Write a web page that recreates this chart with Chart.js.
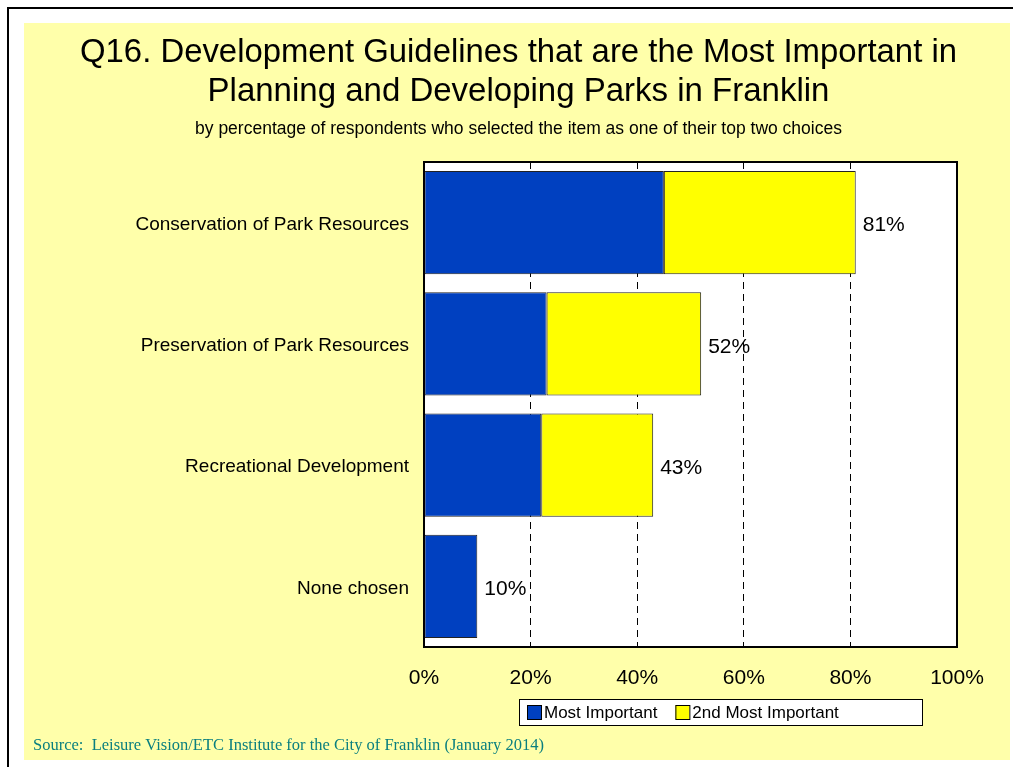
<!DOCTYPE html>
<html>
<head>
<meta charset="utf-8">
<script src="https://cdn.jsdelivr.net/npm/chart.js@4/dist/chart.umd.min.js"></script>
<style>
    body { margin: 0; background: #ffffff; }
    #frame { position: absolute; left: 7px; top: 7px; width: 1006px; height: 760px;
             border-top: 2px solid #000; border-left: 2px solid #000; box-sizing: border-box; }
    #paper { position: absolute; left: 24px; top: 23px; width: 986px; height: 737px; background: #FFFFAA; }
    #wrap { position: absolute; left: 0; top: 0; width: 1013px; height: 767px; }
</style>
</head>
<body>
<div id="frame"></div>
<div id="paper"></div>
<div id="wrap"><canvas id="chart"></canvas></div>
<script>
const categories = ['Conservation of Park Resources', 'Preservation of Park Resources', 'Recreational Development', 'None chosen'];
const mostImportant = [45, 23, 22, 10];
const secondImportant = [36, 29, 21, 0];
const tickLabels = ['0%', '20%', '40%', '60%', '80%', '100%'];

const FONT = "'Liberation Sans', Arial, sans-serif";

const ctx = document.getElementById('chart').getContext('2d');

const plotFrame = {
    id: 'plotFrame',
    beforeDraw(chart) {
        const a = chart.chartArea;
        const c = chart.ctx;
        c.save();
        c.fillStyle = '#ffffff';
        c.fillRect(a.left, a.top, a.right - a.left, a.bottom - a.top);
        c.restore();
    },
    afterDraw(chart) {
        const a = chart.chartArea;
        const c = chart.ctx;
        c.save();
        c.strokeStyle = '#000';
        c.lineWidth = 2;
        c.strokeRect(a.left, a.top, a.right - a.left, a.bottom - a.top);

        // legend box
        const lx = 519, ly = 699, lw = 403, lh = 26;
        c.fillStyle = '#ffffff';
        c.fillRect(lx, ly, lw, lh);
        c.lineWidth = 1;
        c.strokeStyle = '#000';
        c.strokeRect(lx + 0.5, ly + 0.5, lw, lh);
        c.font = '17px ' + FONT;
        c.textBaseline = 'middle';
        c.textAlign = 'left';
        let x = 527;
        chart.data.datasets.forEach(ds => {
            c.fillStyle = ds.backgroundColor;
            c.fillRect(x, ly + 6, 14, 14);
            c.strokeStyle = '#000';
            c.strokeRect(x + 0.5, ly + 6.5, 14, 14);
            c.fillStyle = '#000';
            c.fillText(ds.label, x + 17, ly + 14);
            x += 17 + c.measureText(ds.label).width + 18;
        });

        // source line
        c.font = "16.5px 'Liberation Serif', 'Times New Roman', serif";
        c.fillStyle = '#0A7F7F';
        c.fillText('Source:  Leisure Vision/ETC Institute for the City of Franklin (January 2014)', 33, 746);
        c.restore();
    }
};

const totals = {
    id: 'totals',
    afterDatasetsDraw(chart) {
        const c = chart.ctx;
        const last = chart.getDatasetMeta(chart.data.datasets.length - 1);
        c.save();
        c.font = '21px ' + FONT;
        c.fillStyle = '#000';
        c.textAlign = 'left';
        c.textBaseline = 'middle';
        categories.forEach((cat, i) => {
            const bar = last.data[i];
            const total = mostImportant[i] + secondImportant[i];
            c.fillText(total + '%', bar.x + 7, bar.y + 3);
        });
        c.restore();
    }
};

new Chart(ctx, {
    type: 'bar',
    data: {
        labels: categories,
        datasets: [
            {
                label: 'Most Important',
                data: mostImportant,
                backgroundColor: '#0040C0',
                borderColor: '#222',
                borderWidth: 1,
                borderSkipped: false,
                barPercentage: 0.85,
                categoryPercentage: 1
            },
            {
                label: '2nd Most Important',
                data: secondImportant,
                backgroundColor: '#FFFF00',
                borderColor: '#222',
                borderWidth: 1,
                borderSkipped: false,
                barPercentage: 0.85,
                categoryPercentage: 1
            }
        ]
    },
    options: {
        indexAxis: 'y',
        responsive: true,
        maintainAspectRatio: false,
        animation: false,
        layout: {
            padding: { left: 80, right: 56, top: 33, bottom: 75 }
        },
        scales: {
            x: {
                stacked: true,
                min: 0,
                max: 100,
                ticks: {
                    stepSize: 20,
                    padding: 19,
                    color: '#000',
                    font: { size: 21, family: FONT },
                    callback: (v, i) => tickLabels[i]
                },
                grid: {
                    drawTicks: false,
                    color: c => (c.tick && (c.tick.value === 0 || c.tick.value === 100)) ? 'rgba(0,0,0,0)' : '#000',
                    lineWidth: 1
                },
                border: { display: false, dash: [7, 5] },
                afterFit: s => { s.height = 45; }
            },
            y: {
                stacked: true,
                ticks: {
                    padding: 15,
                    labelOffset: 2,
                    color: '#000',
                    font: { size: 19, family: FONT }
                },
                grid: { display: false, drawTicks: false },
                border: { display: false },
                afterFit: s => { s.width = 344; }
            }
        },
        plugins: {
            legend: { display: false },
            tooltip: { enabled: false },
            title: {
                display: true,
                text: ['Q16. Development Guidelines that are the Most Important in', 'Planning and Developing Parks in Franklin'],
                color: '#000',
                font: { size: 33, family: FONT, weight: 'normal', lineHeight: 39 / 33 },
                padding: { top: 0, bottom: 8 }
            },
            subtitle: {
                display: true,
                text: 'by percentage of respondents who selected the item as one of their top two choices',
                color: '#000',
                font: { size: 17.5, family: FONT, weight: 'normal', lineHeight: 1.2 },
                padding: { top: 0, bottom: 22 }
            }
        }
    },
    plugins: [plotFrame, totals]
});
</script>
</body>
</html>
